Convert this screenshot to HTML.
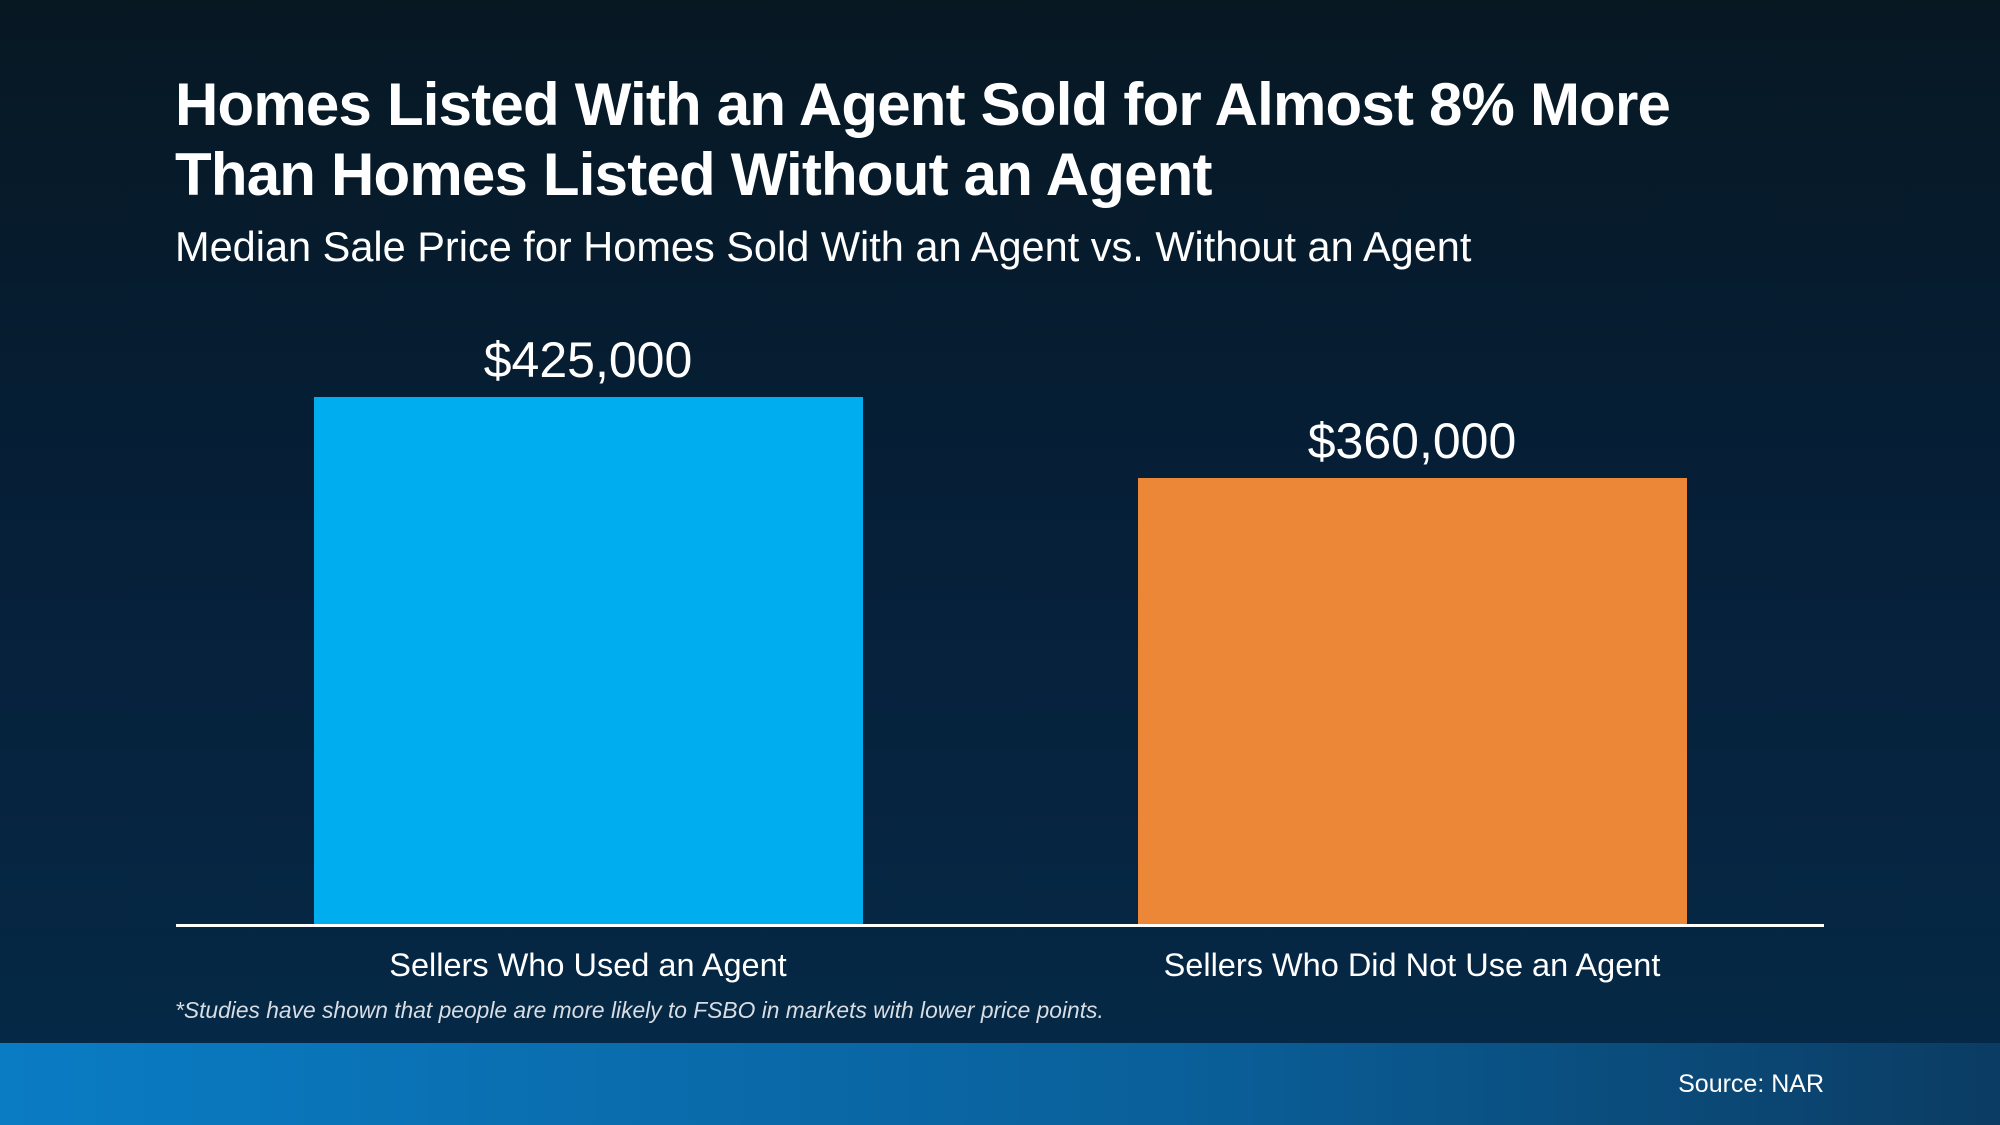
<!DOCTYPE html>
<html><head><meta charset="utf-8"><style>
html,body{margin:0;padding:0}
body{width:2000px;height:1125px;position:relative;overflow:hidden;font-family:"Liberation Sans",Arial,sans-serif;color:#fff;
background:linear-gradient(180deg,#071823 0%,#06203a 50%,#052a48 100%);}
.t{position:absolute;left:175px;top:70px;font-size:60px;font-weight:bold;line-height:70px;letter-spacing:-0.8px}
.s{position:absolute;left:175px;top:223px;font-size:41.5px;line-height:48px}
.bar{position:absolute}
.v{position:absolute;font-size:50px;text-align:center;width:600px;line-height:60px}
.c{position:absolute;font-size:32.5px;text-align:center;width:700px;line-height:36px}
.f{position:absolute;left:175px;top:997px;font-size:22.8px;font-style:italic;color:#d8dde3}
.band{position:absolute;left:0;top:1043px;width:2000px;height:82px;background:linear-gradient(90deg,#0a7cc4 0%,#0a5f99 60%,#0b3c63 100%)}
.src{position:absolute;right:176px;top:1070px;font-size:25px}
</style></head><body>
<div class="t">Homes Listed With an Agent Sold for Almost 8% More<br>Than Homes Listed Without an Agent</div>
<div class="s">Median Sale Price for Homes Sold With an Agent vs. Without an Agent</div>
<div class="bar" style="left:314px;top:397px;width:549px;height:529px;background:#00adee"></div>
<div class="bar" style="left:1138px;top:478px;width:549px;height:448px;background:#ec8738"></div>
<div style="position:absolute;left:176px;top:924px;width:1648px;height:3px;background:#fff"></div>
<div class="v" style="left:288px;top:330px">$425,000</div>
<div class="v" style="left:1112px;top:411px">$360,000</div>
<div class="c" style="left:238px;top:947px">Sellers Who Used an Agent</div>
<div class="c" style="left:1062px;top:947px">Sellers Who Did Not Use an Agent</div>
<div class="f">*Studies have shown that people are more likely to FSBO in markets with lower price points.</div>
<div class="band"></div>
<div class="src">Source: NAR</div>
</body></html>
